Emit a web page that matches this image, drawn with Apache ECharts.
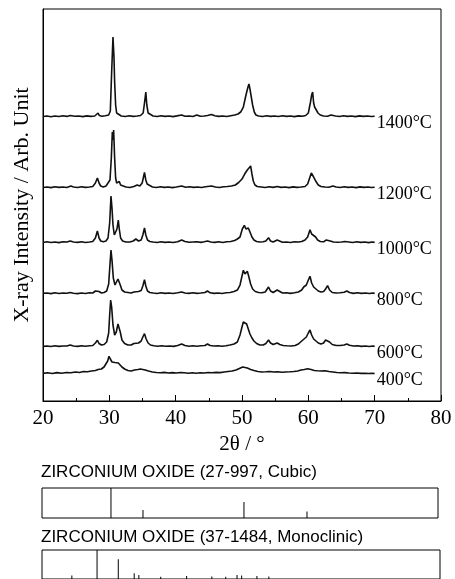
<!DOCTYPE html>
<html>
<head>
<meta charset="utf-8">
<script src="https://cdn.jsdelivr.net/npm/echarts@6/dist/echarts.min.js"></script>
<style>html,body{margin:0;padding:0;background:#fff;}#c{width:455px;height:579px;}</style>
</head>
<body>
<div id="c"></div>
<script>
// ---- Data (2θ in degrees, intensity in arbitrary units above each trace's baseline) ----
const temperatures = ['400°C', '600°C', '800°C', '1000°C', '1200°C', '1400°C'];
const offsets = [27, 54, 107, 158, 213, 284];

const xrd400 = [[20,0.6],[20.7,1.2],[21.4,0.5],[22.1,1.4],[22.8,0.8],[23.5,1.5],[24.2,1.2],[24.9,2],[25.5,1.5],[26.1,2.5],[26.7,2.2],[27.3,3],[27.9,3.5],[28.3,4.5],[28.8,5],[29.2,7],[29.5,9],[29.75,13],[29.95,17.7],[30.15,15],[30.4,12],[30.6,13],[30.85,11.5],[31.1,12],[31.35,11],[31.6,9],[31.9,7],[32.3,5],[32.8,3.5],[33.3,3],[33.8,4],[34.3,4.5],[34.7,5],[35,5.5],[35.4,4],[35.9,3],[36.5,2],[37.1,1.5],[37.7,1.2],[38.3,1.6],[38.9,1],[39.5,1.4],[40.1,1],[40.7,1.5],[41.3,1.2],[41.9,0.8],[42.5,1.2],[43.1,0.8],[43.7,1.2],[44.3,1],[44.9,1.5],[45.5,1.2],[46.1,1.6],[46.7,1.4],[47.3,2],[47.9,2.5],[48.5,3],[49.1,4],[49.6,5.5],[50.1,7],[50.4,7.5],[50.8,6],[51.3,4.5],[51.8,3.5],[52.4,2.5],[53,2],[53.6,2.2],[54.2,2.5],[54.8,2],[55.4,2.2],[56,1.8],[56.6,2],[57.2,2.2],[57.8,2.5],[58.4,3],[58.9,4],[59.4,4.5],[59.9,5.2],[60.4,4.5],[60.9,3.5],[61.4,3.2],[61.9,3],[62.5,3.3],[63.1,2.5],[63.7,2],[64.3,1.5],[64.9,1.2],[65.5,1.4],[66.1,1],[66.7,0.8],[67.3,1],[67.9,0.6],[68.5,0.8],[69.1,0.5],[69.6,0.7],[70,0.5]];

const xrd600 = [[20,0.6],[20.6,1],[21.2,0.5],[21.8,1.2],[22.4,0.6],[23,1],[23.6,1],[24.1,2],[24.6,1],[25.2,0.6],[25.8,1.2],[26.4,0.8],[27,1.2],[27.5,1.5],[27.9,4],[28.2,6.7],[28.45,3.5],[28.8,2],[29.2,2.5],[29.6,5],[29.9,14],[30.05,32],[30.2,47],[30.35,40],[30.55,22],[30.8,12],[31.05,15],[31.3,23],[31.45,25],[31.65,15],[31.9,7],[32.3,3.5],[32.8,2],[33.3,2],[33.7,3.5],[34,5],[34.4,4],[34.8,6],[35.05,10],[35.3,13.3],[35.55,8],[35.85,4],[36.2,2],[36.7,1.2],[37.3,0.8],[37.9,1.2],[38.5,0.8],[39.1,1],[39.7,0.6],[40.3,1.5],[40.9,3],[41.4,1.5],[42,0.8],[42.6,1.2],[43.2,0.8],[43.8,1.2],[44.4,1.5],[44.8,3],[45.2,1.5],[45.8,1],[46.4,1.2],[47,0.8],[47.6,1.2],[48.2,2],[48.8,3],[49.3,5],[49.7,12],[50,20],[50.2,25],[50.45,23.5],[50.7,23],[50.95,18],[51.2,13],[51.5,9],[51.8,6],[52.2,3.5],[52.7,2],[53.2,2],[53.6,3.5],[54,7],[54.3,4],[54.7,2.5],[55,3],[55.3,4],[55.7,2.5],[56.2,1.5],[56.8,1.2],[57.4,1],[58,1.5],[58.5,3],[59,6],[59.3,8],[59.7,10],[60,14],[60.25,17],[60.5,12],[60.8,8],[61.1,6],[61.5,4],[61.9,3],[62.3,4],[62.6,7],[62.9,9],[63.2,5],[63.6,2.5],[64.2,1.5],[64.8,1.5],[65.4,2],[65.8,3],[66.2,1.8],[66.8,1],[67.4,1.2],[68,0.6],[68.6,1],[69.2,0.5],[69.7,1],[70,0.6]];

const xrd800 = [[20,0.6],[20.6,1],[21.2,0.4],[21.8,1.2],[22.4,0.5],[23,1],[23.6,0.8],[24.1,1.5],[24.6,0.8],[25.2,0.4],[25.8,1],[26.4,0.5],[27,1.2],[27.5,1],[27.9,3],[28.2,5],[28.45,2.5],[28.8,1],[29.2,1.5],[29.6,3],[29.9,10],[30.1,30],[30.25,44],[30.4,34],[30.6,16],[30.85,9],[31.1,10],[31.3,15],[31.45,16],[31.65,9],[31.9,4],[32.3,2],[32.8,1.5],[33.3,1],[33.7,2],[34,3],[34.4,2.5],[34.8,3.5],[35.05,8],[35.3,14.3],[35.5,8],[35.75,3],[36.1,1.5],[36.6,1],[37.2,0.5],[37.8,1.2],[38.4,0.6],[39,1],[39.6,0.5],[40.3,1.2],[40.9,2],[41.4,1],[42,0.6],[42.6,1.2],[43.2,0.6],[43.8,1],[44.4,1.5],[44.8,3],[45.2,1.2],[45.8,0.6],[46.4,1],[47,0.5],[47.6,1.2],[48.2,1.5],[48.8,2.5],[49.3,4],[49.7,9],[50,18],[50.2,23.7],[50.45,20],[50.7,22],[50.8,22.7],[51,18],[51.3,10],[51.6,5],[52,2.5],[52.5,1.5],[53,1.2],[53.5,2],[53.8,4],[54,7],[54.3,3],[54.7,1.5],[55,2],[55.3,4],[55.6,2],[56.1,1],[56.7,1.2],[57.3,0.6],[57.9,1.2],[58.5,2],[59,4],[59.3,7],[59.7,9],[60,14],[60.25,17.7],[60.5,11],[60.8,7],[61.1,5],[61.5,3],[61.9,2],[62.3,2.5],[62.6,5],[62.9,8.3],[63.2,4],[63.6,1.5],[64.2,1],[64.8,1.2],[65.4,1.8],[65.8,3],[66.2,1.5],[66.8,0.6],[67.4,1.2],[68,0.6],[68.6,1],[69.2,0.5],[69.7,1],[70,0.6]];

const xrd1000 = [[20,0.5],[20.6,1.2],[21.2,0.5],[21.8,1],[22.4,0.4],[23,1.2],[23.6,1],[24.1,2],[24.6,1],[25.2,0.6],[25.8,1.2],[26.4,0.5],[27,1],[27.5,1.5],[27.9,5],[28.2,12],[28.45,5],[28.7,2],[29.1,1.2],[29.5,2],[29.8,5],[30.05,20],[30.25,47],[30.4,35],[30.55,18],[30.75,8],[30.95,7],[31.15,14],[31.35,23],[31.5,14],[31.7,5],[32,2],[32.5,1],[33.1,1],[33.6,2],[34,4],[34.4,2],[34.8,3],[35.05,8],[35.3,15],[35.5,8],[35.75,3],[36.1,1.5],[36.6,1],[37.2,0.5],[37.8,1.2],[38.4,0.6],[39,1],[39.6,0.5],[40.3,1.2],[40.9,3],[41.4,1.5],[42,0.8],[42.6,1],[43.2,1.2],[43.8,0.6],[44.3,1.2],[44.8,2],[45.3,1],[45.9,0.6],[46.5,1.2],[47.1,0.5],[47.7,1.2],[48.3,1.5],[48.9,2.5],[49.3,4],[49.7,6],[50.05,14],[50.35,17.7],[50.6,14],[50.95,15],[51.2,11],[51.5,6],[51.8,3],[52.2,1.5],[52.7,1],[53.2,1.2],[53.6,2],[54,5.3],[54.3,2],[54.7,1],[55,1.5],[55.3,3],[55.6,1.5],[56.1,0.8],[56.7,1],[57.3,0.5],[57.9,1.2],[58.5,1],[59,1.5],[59.5,3],[59.9,6],[60.25,13.3],[60.5,9],[60.8,7],[61.1,6],[61.4,3],[61.8,1.5],[62.3,1.2],[62.7,3],[63,4.3],[63.3,2],[63.8,1],[64.4,0.8],[65,1],[65.5,1.5],[65.8,2.2],[66.1,1],[66.7,0.5],[67.3,1.2],[67.9,0.6],[68.5,1],[69.1,0.4],[69.6,1],[70,0.6]];

const xrd1200 = [[20,0.5],[20.6,1],[21.2,0.4],[21.8,1.2],[22.4,0.6],[23,1],[23.6,0.5],[24.2,2],[24.6,1],[25.2,0.5],[25.8,1.2],[26.4,0.6],[27,1],[27.5,1.5],[27.9,5],[28.2,10],[28.45,5],[28.7,2],[29.1,1],[29.5,2],[29.8,3.5],[30.1,8],[30.3,30],[30.45,56],[30.55,48],[30.65,58],[30.8,30],[30.95,10],[31.1,5],[31.3,6],[31.5,6.5],[31.7,3],[32,1.5],[32.5,1],[33.1,0.5],[33.7,1.5],[34.2,3],[34.6,2],[34.95,5],[35.15,11],[35.3,15.5],[35.5,8],[35.7,4],[36,2],[36.5,1],[37.1,0.5],[37.7,1.2],[38.3,0.6],[38.9,1],[39.5,0.4],[40.1,1],[40.9,2],[41.5,0.8],[42.1,1.2],[42.7,0.6],[43.3,1],[43.9,0.5],[44.5,1.2],[45.4,2],[46,1],[46.6,0.5],[47.2,1.2],[47.8,1.5],[48.4,2],[49,3],[49.5,5.5],[50,9],[50.4,14],[50.8,18],[51.1,20],[51.3,22],[51.5,14],[51.7,7],[51.95,3],[52.3,1.5],[52.9,1],[53.5,0.5],[54.1,1.2],[54.7,0.6],[55.3,1.5],[55.9,0.6],[56.5,1],[57.1,0.4],[57.7,1.1],[58.3,0.6],[58.9,1],[59.5,1.5],[59.9,4],[60.2,10],[60.45,15],[60.6,13],[60.8,11],[61,10],[61.2,6],[61.5,3],[61.9,1.5],[62.5,1],[63.1,0.8],[63.7,2],[64.2,1],[64.8,0.5],[65.4,1.2],[66,0.6],[66.6,1],[67.2,0.4],[67.8,1.1],[68.4,0.6],[69,1],[69.5,0.5],[70,0.8]];

const xrd1400 = [[20,0.5],[20.6,1],[21.2,0.3],[21.8,1],[22.4,0.5],[23,1.2],[23.6,0.6],[24.1,1.5],[24.4,2.2],[24.8,0.8],[25.4,1],[26,0.4],[26.6,1.1],[27.2,0.6],[27.8,1],[28.1,2.5],[28.3,4],[28.5,1.5],[28.9,0.8],[29.4,1.2],[29.7,3],[29.9,2],[30.15,6],[30.35,45],[30.55,80],[30.7,60],[30.8,35],[30.95,12],[31.1,4],[31.4,2],[31.8,1],[32.4,0.5],[33,1.2],[33.6,0.6],[34.2,1],[34.7,1.5],[35.1,4],[35.3,14],[35.5,25],[35.65,12],[35.85,4],[36.1,2],[36.6,1],[37.2,0.5],[37.8,1.2],[38.4,0.6],[39,1],[39.6,0.4],[40.2,1.1],[40.9,2],[41.4,0.8],[42,1],[42.6,0.5],[43.2,2],[43.7,0.8],[44.3,1],[44.8,1.5],[45.4,2.5],[45.9,1.2],[46.5,0.6],[47.1,1],[47.7,0.5],[48.3,1.3],[48.9,2],[49.4,3],[49.8,5],[50.2,10],[50.6,22],[50.9,30],[51.05,33],[51.2,28],[51.4,20],[51.6,12],[51.85,5],[52.1,2],[52.5,1],[53.1,0.5],[53.7,1.2],[54.3,0.6],[54.9,1],[55.5,0.5],[56.1,1.2],[56.7,0.6],[57.3,1],[57.9,0.4],[58.5,1.1],[59.1,0.7],[59.6,1.5],[60,4],[60.3,14],[60.5,22],[60.65,25],[60.8,14],[60.95,10],[61.2,8],[61.45,4],[61.8,2],[62.3,1],[62.9,0.8],[63.4,2],[63.7,2.2],[64.1,1],[64.7,0.5],[65.3,1.2],[65.9,0.6],[66.5,1],[67.1,0.4],[67.7,1.1],[68.3,0.6],[68.9,1],[69.5,0.5],[70,0.8]];

const patterns = [xrd400, xrd600, xrd800, xrd1000, xrd1200, xrd1400];

// Reference line positions [2θ, relative intensity %]
const cubicLines = [[30.45,100],[35.3,27],[50.6,53],[60.15,22]];
const monoLines = [[24.5,12],[28.3,100],[31.5,68],[33.9,20],[34.6,14],[37.9,8],[41.8,10],[45.6,9],[47.7,8],[49.4,14],[50.1,12],[52.4,10],[54.2,9]];

const xTicks = [20, 30, 40, 50, 60, 70, 80];
const xAxisName = '2θ / °';
const yAxisName = 'X-ray Intensity / Arb. Unit';
const cubicTitle = 'ZIRCONIUM OXIDE (27-997, Cubic)';
const monoTitle = 'ZIRCONIUM OXIDE (37-1484, Monoclinic)';

// ---- Chart ----
const serif = 'Liberation Serif';
const sans = 'Liberation Sans';
const chart = echarts.init(document.getElementById('c'), null, {renderer: 'canvas'});

const traceSeries = patterns.map((p, i) => ({
  type: 'line',
  name: temperatures[i],
  xAxisIndex: 0, yAxisIndex: 0,
  data: p.map(d => [d[0], d[1] + offsets[i]]),
  symbol: 'none',
  smooth: false,
  lineStyle: {color: '#111', width: 1.6},
  silent: true,
  animation: false,
  endLabel: {
    show: true,
    formatter: '{a}',
    color: '#000',
    fontFamily: serif,
    fontSize: 18,
    distance: 2,
    offset: [0, 7]
  }
}));

const hiddenX = (gi) => ({
  type: 'value', gridIndex: gi, min: 20, max: 80,
  axisLine: {show: false}, axisTick: {show: false}, axisLabel: {show: false}, splitLine: {show: false}
});
const hiddenY = (gi) => ({
  type: 'value', gridIndex: gi, min: 0, max: 100,
  axisLine: {show: false}, axisTick: {show: false}, axisLabel: {show: false}, splitLine: {show: false}
});

chart.setOption({
  animation: false,
  backgroundColor: '#fff',
  title: [
    {text: cubicTitle, left: 41, top: 464, padding: 0,
     textStyle: {fontFamily: sans, fontSize: 17, fontWeight: 'normal', color: '#000'}},
    {text: monoTitle, left: 41, top: 529, padding: 0,
     textStyle: {fontFamily: sans, fontSize: 17, fontWeight: 'normal', color: '#000'}}
  ],
  grid: [
    {left: 43, top: 9, width: 398, height: 392, show: true, borderColor: '#000', borderWidth: 1, containLabel: false},
    {left: 42, top: 488, width: 396, height: 30, show: true, borderColor: '#000', borderWidth: 1},
    {left: 42, top: 550, width: 398, height: 31, show: true, borderColor: '#000', borderWidth: 1}
  ],
  xAxis: [
    {
      type: 'value', gridIndex: 0, min: 20, max: 80, interval: 10,
      name: xAxisName, nameLocation: 'middle', nameGap: 31,
      nameTextStyle: {fontFamily: serif, fontSize: 21, color: '#000'},
      axisLine: {show: true, lineStyle: {color: '#000', width: 1}},
      axisTick: {show: true, inside: true, length: 6, lineStyle: {color: '#000'}},
      minorTick: {show: true, splitNumber: 2, length: 3, lineStyle: {color: '#000'}},
      axisLabel: {fontFamily: serif, fontSize: 21, color: '#000', margin: 7,
        customValues: xTicks},
      splitLine: {show: false}
    },
    hiddenX(1), hiddenX(2)
  ],
  yAxis: [
    {
      type: 'value', gridIndex: 0, min: 0, max: 392,
      name: yAxisName, nameLocation: 'middle', nameGap: 10, nameRotate: 90,
      nameTextStyle: {fontFamily: serif, fontSize: 22, color: '#000'},
      axisLine: {show: true, lineStyle: {color: '#000'}},
      axisTick: {show: false}, axisLabel: {show: false}, splitLine: {show: false}
    },
    hiddenY(1), hiddenY(2)
  ],
  series: traceSeries.concat([
    {type: 'bar', xAxisIndex: 1, yAxisIndex: 1, data: cubicLines, barWidth: 1,
     itemStyle: {color: '#000'}, silent: true},
    {type: 'bar', xAxisIndex: 2, yAxisIndex: 2, data: monoLines, barWidth: 1,
     itemStyle: {color: '#000'}, silent: true}
  ])
});
</script>
</body>
</html>
